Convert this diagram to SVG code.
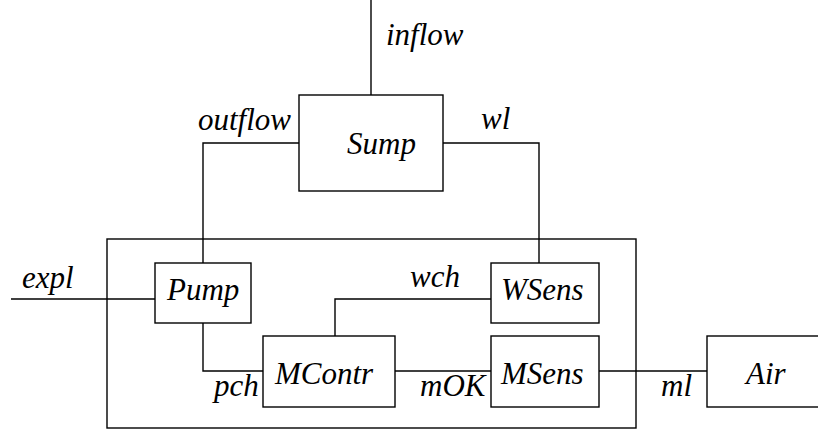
<svg xmlns="http://www.w3.org/2000/svg" width="818" height="435" viewBox="0 0 818 435">
  <style>
    .box { fill: #fff; stroke: #000; stroke-width: 1.4; }
    .wire { fill: none; stroke: #000; stroke-width: 1.4; }
    svg text, g text, text { font-family: "Liberation Serif", "Times New Roman", serif !important; font-style: italic !important; font-size: 31px; fill: #000; }
  </style>
  <rect width="818" height="435" fill="#fff"/>

  <!-- enclosing system boundary -->
  <rect id="system" class="wire" x="107" y="239" width="529" height="189"/>

  <g id="connectors">
    <path class="wire" d="M371,0 V95"/>
    <path class="wire" d="M299,143 H203 V263"/>
    <path class="wire" d="M443,143 H539 V263"/>
    <path class="wire" d="M11,299 H155"/>
    <path class="wire" d="M491,299 H335 V336"/>
    <path class="wire" d="M203,323 V371 H263"/>
    <path class="wire" d="M395,371 H491"/>
    <path class="wire" d="M599,371 H707"/>
    <text x="386" y="45" font-family="Liberation Serif" font-style="italic">inflow</text>
    <text x="198" y="130" font-family="Liberation Serif" font-style="italic">outflow</text>
    <text x="481" y="129" font-family="Liberation Serif" font-style="italic">wl</text>
    <text x="22" y="288" font-family="Liberation Serif" font-style="italic">expl</text>
    <text x="410" y="287" font-family="Liberation Serif" font-style="italic">wch</text>
    <text x="214" y="396" font-family="Liberation Serif" font-style="italic">pch</text>
    <text x="420" y="396" font-family="Liberation Serif" font-style="italic">mOK</text>
    <text x="661" y="396" font-family="Liberation Serif" font-style="italic">ml</text>
  </g>

  <g id="sump">
    <rect class="box" x="299" y="95" width="144" height="96"/>
    <text x="347" y="154" font-family="Liberation Serif" font-style="italic">Sump</text>
  </g>
  <g id="pump">
    <rect class="box" x="155" y="263" width="96" height="60"/>
    <text x="167" y="300" font-family="Liberation Serif" font-style="italic">Pump</text>
  </g>
  <g id="wsens">
    <rect class="box" x="491" y="263" width="108" height="60"/>
    <text x="501" y="300" font-family="Liberation Serif" font-style="italic">WSens</text>
  </g>
  <g id="mcontr">
    <rect class="box" x="263" y="336" width="132" height="71"/>
    <text x="275" y="384" font-family="Liberation Serif" font-style="italic">MContr</text>
  </g>
  <g id="msens">
    <rect class="box" x="491" y="336" width="108" height="71"/>
    <text x="501" y="384" font-family="Liberation Serif" font-style="italic">MSens</text>
  </g>
  <g id="air">
    <rect class="box" x="707" y="336" width="130" height="71"/>
    <text x="746" y="384" font-family="Liberation Serif" font-style="italic">Air</text>
  </g>
</svg>
